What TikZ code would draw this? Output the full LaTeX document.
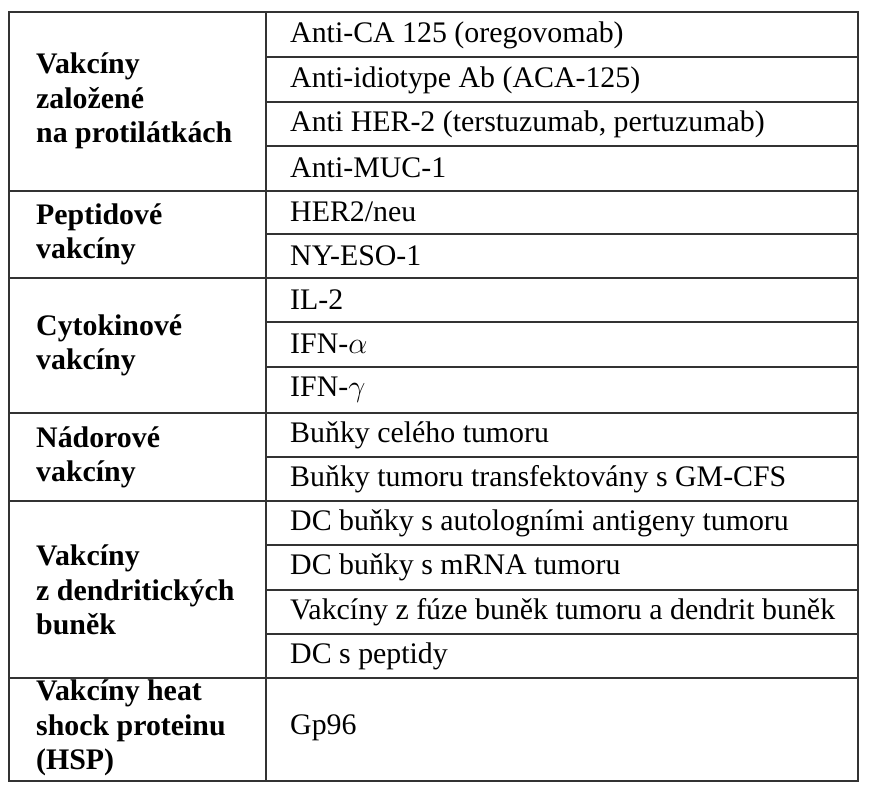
\documentclass[tikz,border=0pt]{standalone}
\usepackage{fontspec}
\setmainfont{Liberation Serif}
\begin{document}
\begin{tikzpicture}[x=0.02cm,y=-0.02cm,
    grid/.style={line width=0.9pt,draw=black!80},
    group/.style={anchor=west,align=left,font=\fontsize{17}{19.5}\selectfont\bfseries},
    item/.style={anchor=west,font=\fontsize{17}{20}\selectfont}]
  \useasboundingbox (0,0) rectangle (875,800);
  % outer frame and column rule
  \draw[grid] (9,12) rectangle (858,781);
  \draw[grid] (266,12) -- (266,781);
  % group rules
  \foreach \y in {191,278,413,501,678}
    \draw[grid] (9,\y) -- (858,\y);
  % item rules
  \foreach \y in {57,102,146,234,322,367,457,545,590,634}
    \draw[grid] (266,\y) -- (858,\y);
  % groups
  \node[group] (g1) at (30,101) {Vakcíny\\založené\\na protilátkách};
  \node[group] (g2) at (30,234) {Peptidové\\vakcíny};
  \node[group] (g3) at (30,345) {Cytokinové\\vakcíny};
  \node[group] (g4) at (30,457) {Nádorové\\vakcíny};
  \node[group] (g5) at (30,590) {Vakcíny\\z dendritických\\buněk};
  \node[group] (g6) at (30,728) {Vakcíny heat\\shock proteinu\\(HSP)};
  % items
  \node[item] (a1) at (284,35) {Anti-CA 125 (oregovomab)};
  \node[item] (a2) at (284,80) {Anti-idiotype Ab (ACA-125)};
  \node[item] (a3) at (284,124) {Anti HER-2 (terstuzumab, pertuzumab)};
  \node[item] (a4) at (284,168) {Anti-MUC-1};
  \node[item] (p1) at (284,212) {HER2/neu};
  \node[item] (p2) at (284,256) {NY-ESO-1};
  \node[item] (c1) at (284,300) {IL-2};
  \node[item] (c2) at (284,344) {IFN-$\alpha$};
  \node[item] (c3) at (284,390) {IFN-$\gamma$};
  \node[item] (n1) at (284,435) {Buňky celého tumoru};
  \node[item] (n2) at (284,479) {Buňky tumoru transfektovány s GM-CFS};
  \node[item] (d1) at (284,523) {DC buňky s autologními antigeny tumoru};
  \node[item] (d2) at (284,567) {DC buňky s mRNA tumoru};
  \node[item] (d3) at (284,612) {Vakcíny z fúze buněk tumoru a dendrit buněk};
  \node[item] (d4) at (284,656) {DC s peptidy};
  \node[item] (h1) at (284,728) {Gp96};
\end{tikzpicture}
\end{document}
